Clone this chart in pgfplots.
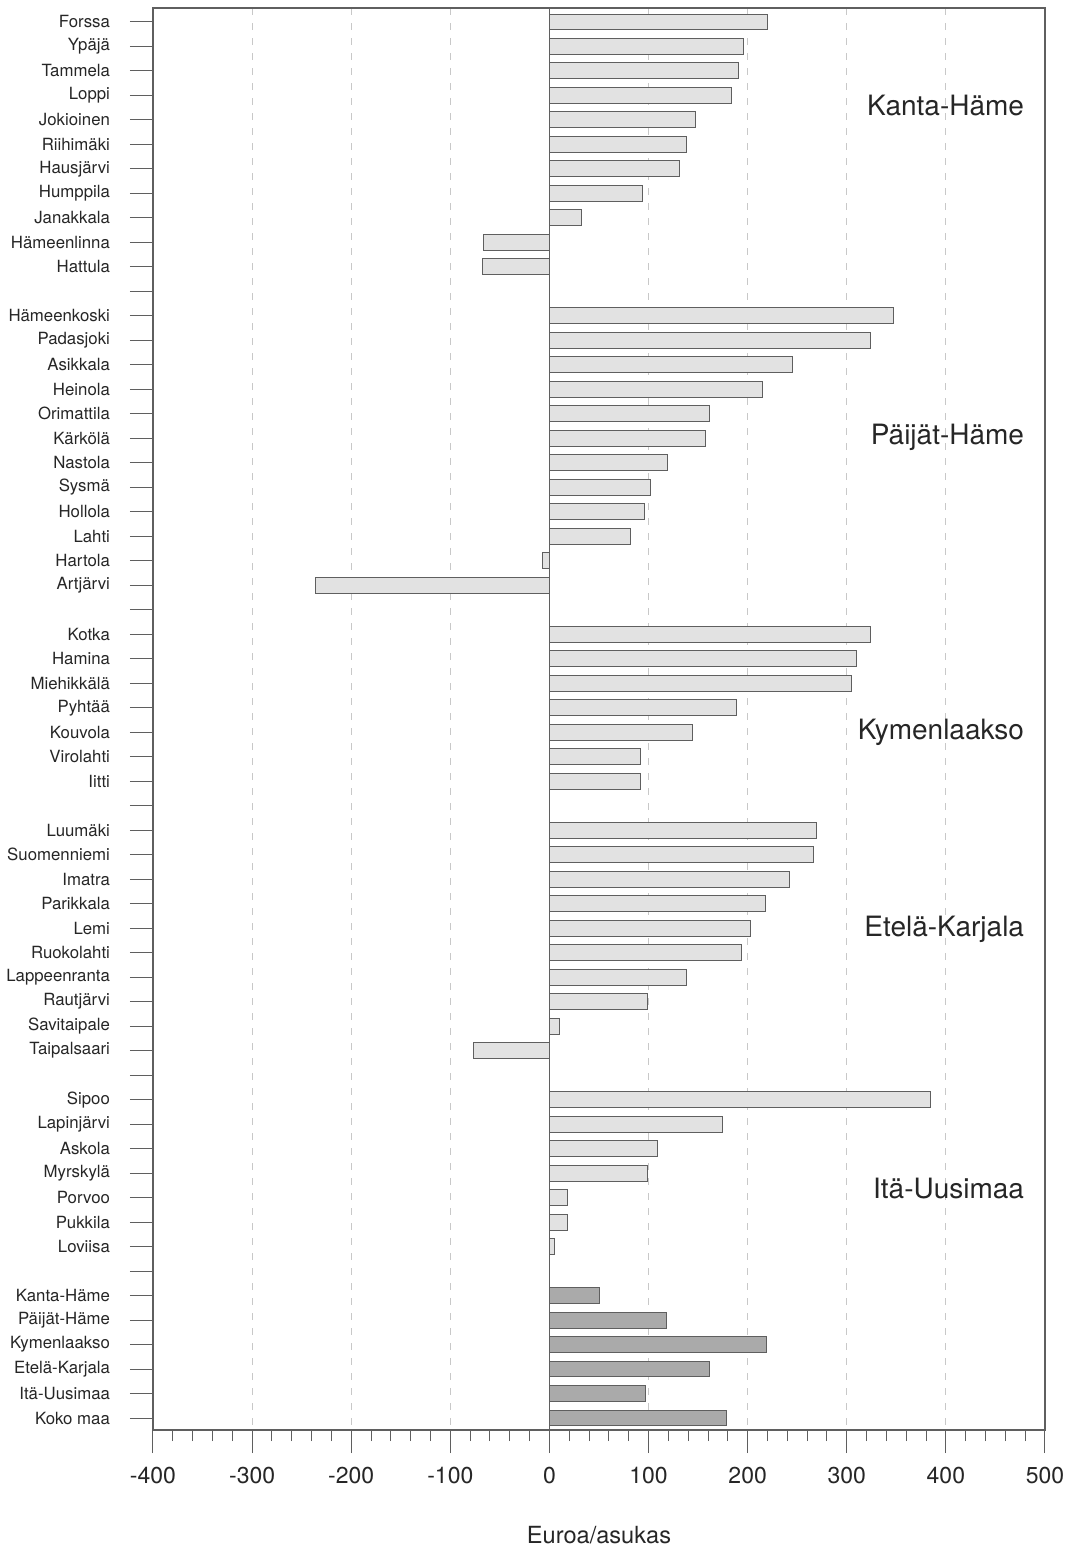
\documentclass[border=0pt]{standalone}
\usepackage{fontspec}
\setmainfont{TeX Gyre Heros}
\usepackage{pgfplots}
\pgfplotsset{compat=1.18}
\definecolor{barlight}{RGB}{226,226,226}
\definecolor{bardark}{RGB}{170,170,170}
\definecolor{edge}{RGB}{95,95,95}
\definecolor{gridc}{RGB}{200,200,200}

\begin{document}
\begin{tikzpicture}
\useasboundingbox (0,0) rectangle (534.5pt,774pt);
\begin{axis}[
  at={(76.5pt,59pt)}, anchor=south west,
  scale only axis, width=446pt, height=711pt,
  xbar, bar width=0.65,
  xmin=-400, xmax=500,
  y dir=reverse, ymin=-0.57, ymax=57.49,
  xtick={-400,-300,...,500},
  minor x tick num=4,
  ytick={0,...,57},
  yticklabels={Forssa,Ypäjä,Tammela,Loppi,Jokioinen,Riihimäki,Hausjärvi,Humppila,Janakkala,Hämeenlinna,Hattula,{},
    Hämeenkoski,Padasjoki,Asikkala,Heinola,Orimattila,Kärkölä,Nastola,Sysmä,Hollola,Lahti,Hartola,Artjärvi,{},
    Kotka,Hamina,Miehikkälä,Pyhtää,Kouvola,Virolahti,Iitti,{},
    Luumäki,Suomenniemi,Imatra,Parikkala,Lemi,Ruokolahti,Lappeenranta,Rautjärvi,Savitaipale,Taipalsaari,{},
    Sipoo,Lapinjärvi,Askola,Myrskylä,Porvoo,Pukkila,Loviisa,{},
    Kanta-Häme,Päijät-Häme,Kymenlaakso,Etelä-Karjala,Itä-Uusimaa,Koko maa},
  tick align=outside,
  xtick pos=left, ytick pos=left,
  major tick length=11.5pt, minor tick length=5.5pt,
  tick style={edge, line width=0.5pt},
  axis line style={edge, line width=0.6pt},
  xmajorgrids,
  grid style={gridc, line width=0.5pt, dash pattern=on 3.5pt off 4pt},
  /pgf/number format/assume math mode=true,
  xticklabel style={font=\fontsize{11.5}{13}\selectfont, text=black!85, yshift=-3.5pt},
  yticklabel style={font=\fontsize{8.4}{10}\selectfont, text=black!85, xshift=-6.5pt},
  xlabel={Euroa/asukas},
  xlabel style={at={(axis description cs:0.5,0)}, anchor=center, yshift=-52.5pt,
    font=\fontsize{11.8}{13}\selectfont, text=black!85},
  clip=false,
]
\addplot[draw=edge, fill=barlight, line width=0.5pt, bar shift=0pt] coordinates {
  (220,0) (196,1) (191,2) (184,3) (147,4) (138,5) (131,6) (94,7) (32,8) (-67,9) (-68,10)
  (347,12) (324,13) (245,14) (215,15) (162,16) (157,17) (119,18) (102,19) (96,20) (82,21) (-7.5,22) (-236,23)
  (324,25) (310,26) (305,27) (189,28) (144,29) (92,30) (92,31)
  (269,33) (266,34) (242,35) (218,36) (203,37) (194,38) (138,39) (99,40) (10,41) (-77,42)
  (384,44) (175,45) (109,46) (99,47) (18,48) (18,49) (5,50)
};
\addplot[draw=edge, fill=bardark, line width=0.5pt, bar shift=0pt] coordinates {
  (51,52) (118,53) (219,54) (162,55) (97,56) (179,57)
};
\draw[edge, line width=0.6pt] (axis cs:0,-0.57) -- (axis cs:0,57.49);
\begin{scope}[every node/.style={anchor=east, font=\fontsize{14}{16}\selectfont, text=black!85}]
\node at (axis cs:486,3.43) {Kanta-Häme};
\node at (axis cs:486,16.95) {Päijät-Häme};
\node at (axis cs:486,29.0) {Kymenlaakso};
\node at (axis cs:486,37.05) {Etelä-Karjala};
\node at (axis cs:486,47.65) {Itä-Uusimaa};
\end{scope}
\end{axis}
\end{tikzpicture}
\end{document}
